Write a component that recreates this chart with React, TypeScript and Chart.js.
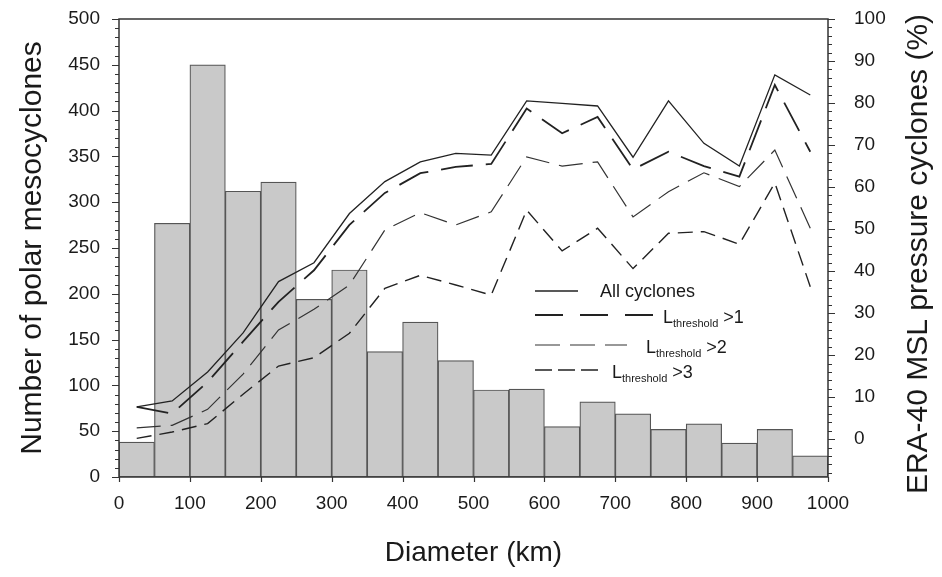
import React, { useEffect, useRef } from "react";
import { Chart, registerables } from "chart.js";

Chart.register(...registerables);

const FONT = "'Liberation Sans', Arial, Helvetica, sans-serif";

// Bin centres (km) of the 50 km diameter classes
const diameters = [25, 75, 125, 175, 225, 275, 325, 375, 425, 475, 525, 575, 625, 675, 725, 775, 825, 875, 925, 975];
// Number of polar mesocyclones per class (left axis)
const mesocycloneCounts = [38, 277, 450, 312, 322, 194, 226, 137, 169, 127, 95, 96, 55, 82, 69, 52, 58, 37, 52, 23];
// ERA-40 MSL pressure cyclones (%) (right axis)
const allCyclones = [7.7, 9.1, 16.0, 25.3, 37.5, 42.0, 53.7, 61.3, 66.0, 68.0, 67.6, 80.5, 79.9, 79.3, 67.1, 80.5, 70.4, 65.0, 86.7, 81.9];
const threshold1 = [7.7, 6.1, 13.6, 23.2, 32.7, 40.2, 51.0, 58.6, 63.3, 64.8, 65.5, 78.7, 72.8, 76.7, 64.2, 68.4, 65.0, 62.5, 84.3, 68.4];
const threshold2 = [2.7, 3.3, 7.1, 15.5, 26.0, 30.9, 36.7, 49.8, 53.9, 51.0, 54.1, 67.2, 65.0, 66.0, 52.9, 58.9, 63.4, 60.1, 68.8, 50.2];
const threshold3 = [0.2, 1.7, 3.7, 10.7, 17.4, 19.4, 25.2, 35.9, 39.0, 36.7, 34.3, 54.5, 44.8, 50.2, 40.6, 49.0, 49.4, 46.4, 61.0, 36.3];

// Axis tick labels
const percentTicks = [0, 10, 20, 30, 40, 50, 60, 70, 80, 90, 100];

const xTitle = "Diameter (km)";
const leftTitle = "Number of polar mesocyclones";
const rightTitle = "ERA-40 MSL pressure cyclones (%)";

const legendItems = [
  { main: "All cyclones", sub: "", tail: "" },
  { main: "L", sub: "threshold", tail: " >1" },
  { main: "L", sub: "threshold", tail: " >2" },
  { main: "L", sub: "threshold", tail: " >3" },
];

const pts = (ys: number[]) => diameters.map((x, i) => ({ x, y: ys[i] }));

const decorPlugin = {
  id: "decor",
  afterDraw(chart: any) {
    const { ctx, chartArea } = chart;
    const { left, right, top, bottom } = chartArea;
    const ys = chart.scales.y;
    const yr = chart.scales.y1;
    const xs = chart.scales.x;
    ctx.save();
    // frame
    ctx.strokeStyle = "#333";
    ctx.lineWidth = 1.5;
    ctx.setLineDash([]);
    ctx.strokeRect(left, top, right - left, bottom - top);
    // tick marks
    ctx.lineWidth = 1.2;
    ctx.beginPath();
    for (let v = 0; v <= 500; v += 10) {
      const p = Math.round(ys.getPixelForValue(v)) + 0.5;
      const len = v % 50 === 0 ? 7 : 4;
      ctx.moveTo(left - len, p);
      ctx.lineTo(left, p);
    }
    for (let v = -8; v <= 100; v += 2) {
      const p = Math.round(yr.getPixelForValue(v)) + 0.5;
      const len = v % 10 === 0 ? 7 : 4;
      ctx.moveTo(right, p);
      ctx.lineTo(right + len, p);
    }
    for (let v = 0; v <= 1000; v += 100) {
      const p = Math.round(xs.getPixelForValue(v)) + 0.5;
      ctx.moveTo(p, bottom);
      ctx.lineTo(p, bottom + 5);
    }
    ctx.stroke();

    // right axis title (reads bottom to top)
    ctx.fillStyle = "#1a1a1a";
    ctx.font = `30px ${FONT}`;
    ctx.textAlign = "center";
    ctx.textBaseline = "middle";
    ctx.save();
    ctx.translate(chart.width - 23, 254);
    ctx.rotate(-Math.PI / 2);
    ctx.fillText(rightTitle, 0, 0);
    ctx.restore();

    // legend
    const rows = [
      { sx: 416, sLen: 43, sy: 272, dash: [] as number[], tx: 481, base: 278 },
      { sx: 416, sLen: 118, sy: 296, dash: [28, 17], tx: 544, base: 304 },
      { sx: 416, sLen: 92, sy: 326, dash: [25, 10], tx: 527, base: 334 },
      { sx: 416, sLen: 63, sy: 351, dash: [17, 6], tx: 493, base: 359 },
    ];
    const metas = [0, 1, 2, 3].map((i) => chart.data.datasets[i]);
    ctx.textAlign = "left";
    ctx.textBaseline = "alphabetic";
    rows.forEach((r, i) => {
      const ds: any = metas[i];
      ctx.strokeStyle = ds.borderColor;
      ctx.lineWidth = ds.borderWidth;
      ctx.setLineDash(r.dash);
      ctx.beginPath();
      ctx.moveTo(left + r.sx, top + r.sy);
      ctx.lineTo(left + r.sx + r.sLen, top + r.sy);
      ctx.stroke();
      ctx.setLineDash([]);
      const it = legendItems[i];
      let x = left + r.tx;
      const y = top + r.base;
      ctx.fillStyle = "#1a1a1a";
      ctx.font = `18px ${FONT}`;
      ctx.fillText(it.main, x, y);
      x += ctx.measureText(it.main).width;
      if (it.sub) {
        ctx.font = `11px ${FONT}`;
        ctx.fillText(it.sub, x, y + 4);
        x += ctx.measureText(it.sub).width;
        ctx.font = `18px ${FONT}`;
        ctx.fillText(it.tail, x, y);
      }
    });
    ctx.restore();
  },
};

export default function App() {
  const ref = useRef<HTMLCanvasElement | null>(null);

  useEffect(() => {
    document.body.style.margin = "0";
    const canvas = ref.current;
    if (!canvas) return;
    Chart.defaults.font.family = FONT;
    Chart.defaults.color = "#1a1a1a";

    const noPad = (s: any) => {
      s.paddingTop = 0;
      s.paddingBottom = 0;
    };

    const chart = new Chart(canvas, {
      type: "bar",
      data: {
        datasets: [
          {
            type: "line",
            label: "All cyclones",
            data: pts(allCyclones),
            yAxisID: "y1",
            borderColor: "#222",
            borderWidth: 1.3,
            pointRadius: 0,
            fill: false,
            tension: 0,
            order: 1,
          },
          {
            type: "line",
            label: "Lthreshold >1",
            data: pts(threshold1),
            yAxisID: "y1",
            borderColor: "#222",
            borderWidth: 1.8,
            borderDash: [32, 13],
            pointRadius: 0,
            fill: false,
            tension: 0,
            order: 2,
          },
          {
            type: "line",
            label: "Lthreshold >2",
            data: pts(threshold2),
            yAxisID: "y1",
            borderColor: "#333",
            borderWidth: 1.2,
            borderDash: [24, 10],
            pointRadius: 0,
            fill: false,
            tension: 0,
            order: 3,
          },
          {
            type: "line",
            label: "Lthreshold >3",
            data: pts(threshold3),
            yAxisID: "y1",
            borderColor: "#222",
            borderWidth: 1.4,
            borderDash: [15, 8],
            pointRadius: 0,
            fill: false,
            tension: 0,
            order: 4,
          },
          {
            type: "bar",
            label: "Polar mesocyclones",
            data: pts(mesocycloneCounts),
            yAxisID: "y",
            backgroundColor: "#c9c9c9",
            borderColor: "#555",
            borderWidth: 1.2,
            borderSkipped: false,
            barPercentage: 1,
            categoryPercentage: 1,
            order: 10,
          },
        ],
      } as any,
      options: {
        responsive: false,
        animation: false,
        events: [],
        layout: { padding: { top: 19, left: 0, right: 0, bottom: 0 } },
        plugins: { legend: { display: false }, tooltip: { enabled: false } },
        scales: {
          x: {
            type: "linear",
            min: 0,
            max: 1000,
            offset: false,
            grid: { display: false, drawTicks: false },
            border: { display: false },
            ticks: {
              stepSize: 100,
              font: { size: 19 },
              color: "#1a1a1a",
              padding: 15,
              maxRotation: 0,
              callback: (v: any) => String(v),
            },
            title: {
              display: true,
              text: xTitle,
              font: { size: 28 },
              color: "#1a1a1a",
              padding: { top: 0, bottom: 7 },
            },
            afterFit: (s: any) => {
              s.height = 100;
              s.paddingLeft = 0;
              s.paddingRight = 0;
            },
          },
          y: {
            type: "linear",
            position: "left",
            min: 0,
            max: 500,
            grid: { display: false, drawTicks: false },
            border: { display: false },
            ticks: { stepSize: 50, font: { size: 19 }, color: "#1a1a1a", padding: 19 },
            title: {
              display: true,
              text: leftTitle,
              font: { size: 30 },
              color: "#1a1a1a",
              padding: { top: 15, bottom: 0 },
            },
            afterFit: (s: any) => {
              s.width = 119;
              noPad(s);
            },
          },
          y1: {
            type: "linear",
            position: "right",
            min: -9,
            max: 100,
            grid: { display: false, drawTicks: false },
            border: { display: false },
            ticks: { font: { size: 19 }, color: "#1a1a1a", padding: 26 },
            afterBuildTicks: (s: any) => {
              s.ticks = percentTicks.map((v) => ({ value: v }));
            },
            afterFit: (s: any) => {
              s.width = 114;
              noPad(s);
            },
          },
        },
      } as any,
      plugins: [decorPlugin],
    });
    return () => chart.destroy();
  }, []);

  return (
    <div style={{ position: "fixed", left: 0, top: 0, width: 942, height: 577, background: "#fff" }}>
      <canvas ref={ref} width={942} height={577} style={{ display: "block" }} />
    </div>
  );
}
